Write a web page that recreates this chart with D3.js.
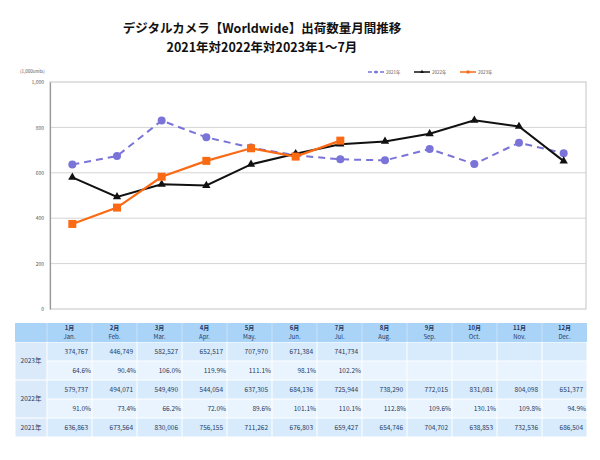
<!DOCTYPE html>
<html><head><meta charset="utf-8">
<script src="https://cdn.jsdelivr.net/npm/d3@7/dist/d3.min.js"></script>
<style>body{margin:0;background:#fff}svg{display:block}</style>
</head><body>
<svg id="c" width="600" height="460"></svg>
<script>
const monthsJa = ["1月","2月","3月","4月","5月","6月","7月","8月","9月","10月","11月","12月"];
const monthsEn = ["Jan.","Feb.","Mar.","Apr.","May.","Jun.","Jul.","Aug.","Sep.","Oct.","Nov.","Dec."];
const v2021 = [636863,673564,830006,756155,711262,676803,659427,654746,704702,638853,732536,686504];
const v2022 = [579737,494071,549490,544054,637305,684136,725944,738290,772015,831081,804098,651377];
const v2023 = [374767,446749,582527,652517,707970,671384,741734];
const pct2023 = ["64.6%","90.4%","106.0%","119.9%","111.1%","98.1%","102.2%"];
const pct2022 = ["91.0%","73.4%","66.2%","72.0%","89.6%","101.1%","110.1%","112.8%","109.6%","130.1%","109.8%","94.9%"];
const yTicks = [0,200,400,600,800,1000];
const titleLines = ["デジタルカメラ【Worldwide】出荷数量月間推移","2021年対2022年対2023年1～7月"];
const seriesNames = ["2021年","2022年","2023年"];

const svg = d3.select("#c");
const font = "'Noto Sans CJK JP','Noto Sans',sans-serif";

// Title
svg.selectAll("text.title").data(titleLines).join("text")
  .attr("x",262).attr("y",(d,i)=>33+i*19)
  .attr("text-anchor","middle").attr("font-family",font)
  .attr("font-weight","bold").attr("font-size",12.5).attr("fill","#111")
  .text(d=>d);

const L=50,R=586,T=82,B=309;
const x = d3.scaleBand().domain(d3.range(12)).range([L,R]);
const cx = i => x(i)+x.bandwidth()/2;
const y = d3.scaleLinear().domain([0,1000]).range([B,T]);

// grid
svg.append("g").selectAll("line").data(yTicks.filter(t=>t>0&&t<1000)).join("line")
  .attr("x1",L).attr("x2",R).attr("y1",d=>y(d)).attr("y2",d=>y(d))
  .attr("stroke","#d4d4d4").attr("stroke-width",1);
svg.append("rect").attr("x",L).attr("y",T).attr("width",R-L).attr("height",B-T)
  .attr("fill","none").attr("stroke","#c4c4c4").attr("stroke-width",1);

const yAxis = d3.axisLeft(y).tickValues(yTicks).tickSize(0).tickPadding(6)
  .tickFormat(d3.format(","));
const ga = svg.append("g").attr("transform",`translate(${L},0)`).call(yAxis);
ga.select(".domain").attr("stroke","#999").attr("stroke-width",1.2);
ga.selectAll("text").attr("font-size",5).attr("fill","#555").attr("font-family",font);

svg.append("text").attr("x",20).attr("y",73).attr("font-size",4.5).attr("fill","#555")
  .attr("font-family",font).text("(1,000units)");

const line = d3.line().x((d,i)=>cx(i)).y(d=>y(d/1000));

// 2021
svg.append("path").datum(v2021).attr("d",line).attr("fill","none")
  .attr("stroke","#7a74d8").attr("stroke-width",2).attr("stroke-dasharray","7,5");
svg.append("g").selectAll("circle").data(v2021).join("circle")
  .attr("cx",(d,i)=>cx(i)).attr("cy",d=>y(d/1000)).attr("r",4).attr("fill","#7a74d8");
// 2022
svg.append("path").datum(v2022).attr("d",line).attr("fill","none")
  .attr("stroke","#111").attr("stroke-width",2);
const tri = d3.symbol().type(d3.symbolTriangle).size(30);
svg.append("g").selectAll("path").data(v2022).join("path")
  .attr("transform",(d,i)=>`translate(${cx(i)},${y(d/1000)})`).attr("d",tri).attr("fill","#111");
// 2023
svg.append("path").datum(v2023).attr("d",line).attr("fill","none")
  .attr("stroke","#fa6a14").attr("stroke-width",2.2);
svg.append("g").selectAll("rect").data(v2023).join("rect")
  .attr("x",(d,i)=>cx(i)-4).attr("y",d=>y(d/1000)-4).attr("width",8).attr("height",8).attr("fill","#fa6a14");

// legend
const leg = [{c:"#7a74d8",dash:"4,2",m:"c"},{c:"#111",dash:null,m:"t"},{c:"#fa6a14",dash:null,m:"s"}];
const lg = svg.append("g").selectAll("g").data(leg).join("g")
  .attr("transform",(d,i)=>`translate(${368+i*46},72)`);
lg.append("line").attr("x1",0).attr("x2",16).attr("stroke",d=>d.c).attr("stroke-width",1.5)
  .attr("stroke-dasharray",d=>d.dash);
lg.filter(d=>d.m==="c").append("circle").attr("cx",8).attr("r",1.6).attr("fill",d=>d.c);
lg.filter(d=>d.m==="t").append("path").attr("transform","translate(8,0)").attr("d",d3.symbol().type(d3.symbolTriangle).size(6)).attr("fill","#111");
lg.filter(d=>d.m==="s").append("rect").attr("x",6.5).attr("y",-1.5).attr("width",3).attr("height",3).attr("fill",d=>d.c);
lg.append("text").attr("x",18).attr("y",1.7).attr("font-size",4.5).attr("fill","#555")
  .attr("font-family",font).text((d,i)=>seriesNames[i]);

// table
const tx = d3.scaleBand().domain(d3.range(12)).range([47,587]);
const rowsY = [323,342,361,380,399,418,437];
const tg = svg.append("g").attr("font-family",font);
const txtCol = "#283a5e";
// header
tg.append("rect").attr("x",15).attr("y",rowsY[0]).attr("width",587-15).attr("height",rowsY[1]-rowsY[0]).attr("fill","#a9d3f7");
tg.append("g").selectAll("line").data(d3.range(12)).join("line")
  .attr("x1",i=>tx(i)).attr("x2",i=>tx(i)).attr("y1",rowsY[0]).attr("y2",rowsY[1])
  .attr("stroke","#c9e3fa").attr("stroke-width",1);
tg.append("g").selectAll("text").data(d3.range(12)).join("text")
  .attr("x",i=>tx(i)+tx.bandwidth()/2).attr("y",330).attr("text-anchor","middle")
  .attr("font-size",6).attr("font-weight","bold").attr("fill",txtCol).text(i=>monthsJa[i]);
tg.append("g").selectAll("text").data(d3.range(12)).join("text")
  .attr("x",i=>tx(i)+tx.bandwidth()/2).attr("y",338.5).attr("text-anchor","middle")
  .attr("font-size",6).attr("fill",txtCol).text(i=>monthsEn[i]);

const rows = [
  {vals:v2023.map(d3.format(",")), fill:"#d8ebfc", pad:4},
  {vals:pct2023, fill:"#e9f4fe", pad:1},
  {vals:v2022.map(d3.format(",")), fill:"#d8ebfc", pad:4},
  {vals:pct2022, fill:"#e9f4fe", pad:1},
  {vals:v2021.map(d3.format(",")), fill:"#d8ebfc", pad:4}
];
rows.forEach((r,ri)=>{
  const y0 = rowsY[ri+1], y1 = rowsY[ri+2];
  tg.append("g").selectAll("rect").data(d3.range(12)).join("rect")
    .attr("x",i=>tx(i)+0.5).attr("y",y0+0.5).attr("width",tx.bandwidth()-1).attr("height",y1-y0-1)
    .attr("fill",r.fill);
  tg.append("g").selectAll("text").data(r.vals).join("text")
    .attr("x",(d,i)=>tx(i)+tx.bandwidth()-r.pad).attr("y",(y0+y1)/2+2.3)
    .attr("text-anchor","end").attr("font-size",6.5).attr("fill",txtCol).text(d=>d);
});
const labels = [{t:"2023年",a:1,b:3},{t:"2022年",a:3,b:5},{t:"2021年",a:5,b:6}];
labels.forEach(l=>{
  tg.append("rect").attr("x",15.5).attr("y",rowsY[l.a]+0.5).attr("width",31).attr("height",rowsY[l.b]-rowsY[l.a]-1).attr("fill","#dbeafa");
  tg.append("text").attr("x",31).attr("y",(rowsY[l.a]+rowsY[l.b])/2+2.3).attr("text-anchor","middle")
    .attr("font-size",6.5).attr("fill",txtCol).text(l.t);
});
</script>
</body></html>
